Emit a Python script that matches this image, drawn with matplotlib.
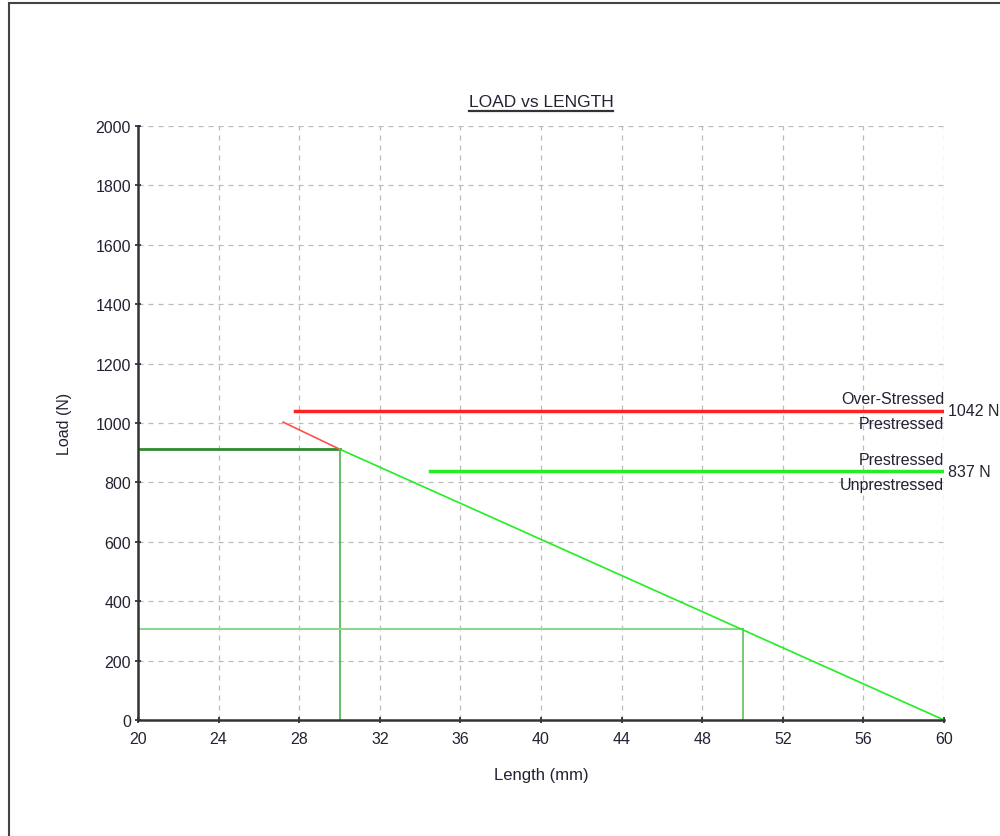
import matplotlib.pyplot as plt
from matplotlib.lines import Line2D
from matplotlib.patches import Rectangle

plt.rcParams['font.family'] = ['Liberation Sans', 'DejaVu Sans']

# spring curve: over-stressed part (red) and working part (green)
over_x = [27.2, 30.0]
over_y = [1003, 912]
work_x = [30.0, 60.0]
work_y = [912, 0]

# operating points
point1_x, point1_y = 30.0, 912
point2_x, point2_y = 50.0, 305

# limit loads
over_load = 1042
over_start = 27.8
pre_load = 837
pre_start = 34.5

x_ticks = list(range(20, 61, 4))
y_ticks = list(range(0, 2001, 200))


def main():
    fig = plt.figure(figsize=(10, 8.37), dpi=100)
    fig.patches.append(Rectangle((0.009, -0.01), 1.2, 1.0052,
                                 transform=fig.transFigure, fill=False,
                                 edgecolor='#444444', linewidth=1.5))
    ax = fig.add_axes([0.138, 0.1386, 0.806, 0.7097])

    ax.plot([20, point1_x], [point1_y, point1_y], color='#2e8b2e', lw=2)
    ax.plot([point1_x, point1_x], [0, point1_y], color='#5cb85c', lw=1.3)
    ax.plot([20, point2_x], [point2_y, point2_y], color='#8fd48f', lw=1.5)
    ax.plot([point2_x, point2_x], [0, point2_y], color='#6cc46c', lw=1.3)

    ax.plot(over_x, over_y, color='#ff5050', lw=1.2)
    ax.plot(work_x, work_y, color='#22ee22', lw=1.2)

    ax.plot([over_start, 60], [over_load, over_load], color='#ff2222', lw=2.5)
    ax.plot([pre_start, 60], [pre_load, pre_load], color='#22ee22', lw=2.5)

    fs = 11.5
    ax.text(60, over_load + 14, 'Over-Stressed', ha='right', va='bottom', fontsize=fs, color='#222233')
    ax.text(60, over_load - 20, 'Prestressed', ha='right', va='top', fontsize=fs, color='#222233')
    ax.text(60.2, over_load, '1042 N', ha='left', va='center', fontsize=fs, color='#222233')
    ax.text(60, pre_load + 14, 'Prestressed', ha='right', va='bottom', fontsize=fs, color='#222233')
    ax.text(60, pre_load - 20, 'Unprestressed', ha='right', va='top', fontsize=fs, color='#222233')
    ax.text(60.2, pre_load, '837 N', ha='left', va='center', fontsize=fs, color='#222233')

    ax.set_xlim(20, 60)
    ax.set_ylim(0, 2000)
    ax.set_xticks(x_ticks)
    ax.set_yticks(y_ticks)
    ax.tick_params(labelsize=fs, colors='#222233', length=4, width=1.2, direction='inout', pad=3)
    ax.tick_params(axis='x', pad=6)
    ax.grid(True, color='#bbbbbb', linestyle=(0, (4, 4)), linewidth=0.9)
    ax.set_axisbelow(True)
    for side in ['top', 'right']:
        ax.spines[side].set_visible(False)
    for side in ['left', 'bottom']:
        ax.spines[side].set_color('#333333')
        ax.spines[side].set_linewidth(1.8)

    ax.set_xlabel('Length (mm)', fontsize=12, color='#222233', labelpad=15)
    ax.set_ylabel('Load (N)', fontsize=fs, color='#222233', labelpad=17)

    title = fig.text(0.541, 0.877, 'LOAD vs LENGTH', ha='center', va='center', fontsize=12.5, color='#222233')
    fig.canvas.draw()
    bb = title.get_window_extent().transformed(fig.transFigure.inverted())
    fig.lines.append(Line2D([bb.x0, bb.x1], [bb.y0 - 0.002, bb.y0 - 0.002],
                            transform=fig.transFigure, color='#333333', lw=1.6))

    plt.savefig('out.png', dpi=100)


if __name__ == '__main__':
    main()
